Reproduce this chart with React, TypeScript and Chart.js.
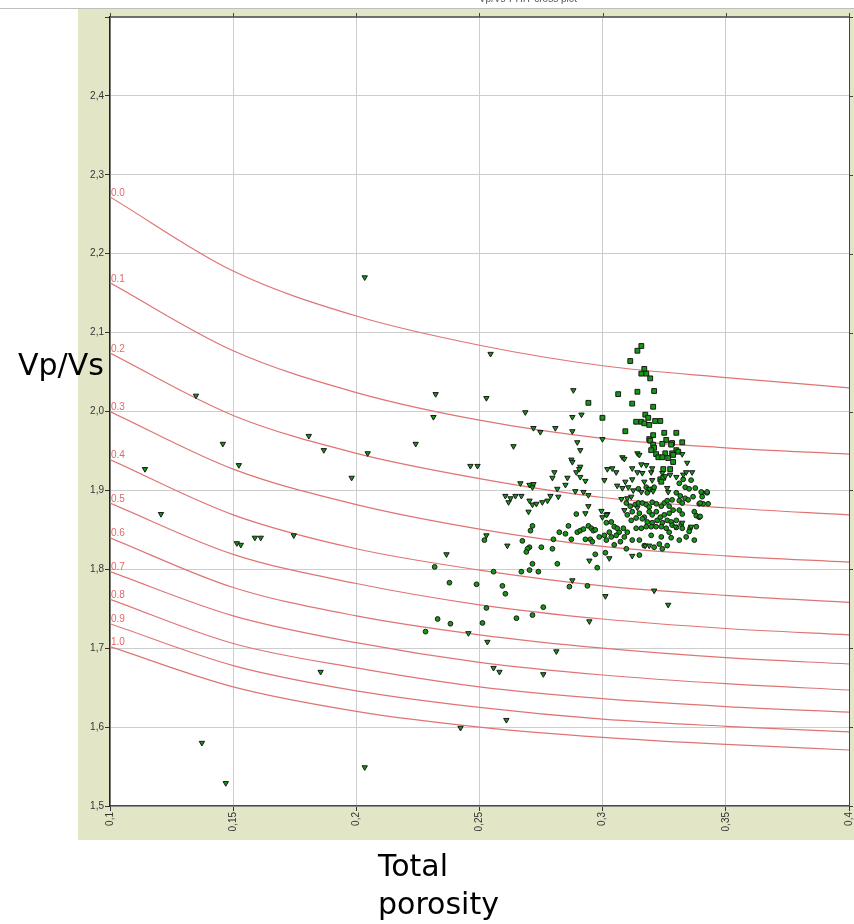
import React, { useEffect, useRef } from 'react';
import { Chart, registerables } from 'chart.js';

Chart.register(...registerables);

// ---- axis ticks ----
const xTickValues = [0.1, 0.15, 0.2, 0.25, 0.3, 0.35, 0.4];
const yTickValues = [1.5, 1.6, 1.7, 1.8, 1.9, 2.0, 2.1, 2.2, 2.3, 2.4, 2.5];

// ---- template curves (Vp/Vs vs total porosity) ----
const curveX = [0.1, 0.15, 0.2, 0.25, 0.3, 0.35, 0.4];
const curveLabels = ['0.0', '0.1', '0.2', '0.3', '0.4', '0.5', '0.6', '0.7', '0.8', '0.9', '1.0'];
const curve00 = [2.272, 2.178, 2.121, 2.084, 2.058, 2.043, 2.030];
const curve01 = [2.163, 2.077, 2.024, 1.989, 1.966, 1.954, 1.946];
const curve02 = [2.074, 1.995, 1.947, 1.915, 1.891, 1.878, 1.869];
const curve03 = [2.000, 1.927, 1.882, 1.851, 1.829, 1.817, 1.809];
const curve04 = [1.939, 1.869, 1.826, 1.799, 1.779, 1.767, 1.758];
const curve05 = [1.884, 1.819, 1.782, 1.755, 1.737, 1.725, 1.717];
const curve06 = [1.840, 1.777, 1.741, 1.717, 1.700, 1.688, 1.680];
const curve07 = [1.797, 1.741, 1.707, 1.682, 1.666, 1.655, 1.647];
const curve08 = [1.762, 1.706, 1.675, 1.651, 1.636, 1.626, 1.619];
const curve09 = [1.731, 1.678, 1.646, 1.625, 1.610, 1.601, 1.594];
const curve10 = [1.702, 1.651, 1.620, 1.600, 1.587, 1.578, 1.571];
const curveValues = [curve00, curve01, curve02, curve03, curve04, curve05, curve06, curve07, curve08, curve09, curve10];

// ---- scatter data: [porosity, Vp/Vs] ----
const trianglePoints: [number, number][] = [
  [0.1142, 1.927], [0.1207, 1.870], [0.1349, 2.020], [0.1458, 1.959], [0.1523, 1.932],
  [0.1515, 1.833], [0.1531, 1.831], [0.1588, 1.840], [0.1612, 1.840], [0.1746, 1.843],
  [0.1807, 1.969], [0.1868, 1.951], [0.1981, 1.916], [0.2046, 1.947], [0.2034, 2.170],
  [0.2241, 1.959], [0.2322, 2.022], [0.2313, 1.993], [0.2463, 1.931], [0.2492, 1.931],
  [0.2366, 1.819], [0.1855, 1.670], [0.2423, 1.599], [0.2034, 1.549], [0.2455, 1.719],
  [0.1373, 1.580], [0.1470, 1.529], [0.2545, 2.073], [0.2528, 2.017], [0.2881, 2.027],
  [0.2686, 1.999], [0.2877, 1.993], [0.2914, 1.996], [0.2719, 1.979], [0.2747, 1.974],
  [0.2808, 1.979], [0.2877, 1.975], [0.2999, 1.965], [0.2897, 1.961], [0.2638, 1.956],
  [0.2909, 1.951], [0.2873, 1.939], [0.2877, 1.936], [0.2909, 1.930], [0.2905, 1.927],
  [0.2893, 1.923], [0.2804, 1.923], [0.3019, 1.927], [0.2796, 1.916], [0.2857, 1.916],
  [0.2909, 1.917], [0.2930, 1.912], [0.3007, 1.913], [0.2666, 1.909], [0.2703, 1.907],
  [0.2719, 1.908], [0.2715, 1.904], [0.2849, 1.907], [0.2816, 1.902], [0.2889, 1.899],
  [0.2922, 1.898], [0.2942, 1.894], [0.2605, 1.893], [0.2626, 1.890], [0.2618, 1.885],
  [0.2646, 1.893], [0.2670, 1.893], [0.2703, 1.887], [0.2715, 1.882], [0.2731, 1.883],
  [0.2755, 1.885], [0.2776, 1.887], [0.2788, 1.893], [0.2820, 1.892], [0.2942, 1.880],
  [0.2699, 1.873], [0.2930, 1.871], [0.2995, 1.874], [0.3019, 1.870], [0.2528, 1.843],
  [0.2613, 1.830], [0.2946, 1.811], [0.2877, 1.786], [0.2946, 1.734], [0.2532, 1.708],
  [0.2812, 1.696], [0.2557, 1.675], [0.2581, 1.670], [0.2759, 1.667], [0.2609, 1.609],
  [0.3011, 1.766], [0.3209, 1.773], [0.3266, 1.755],
  [0.3141, 1.947], [0.3149, 1.945], [0.3080, 1.942], [0.3088, 1.940], [0.3157, 1.933],
  [0.3177, 1.932], [0.3039, 1.928], [0.3055, 1.923], [0.3120, 1.928], [0.3141, 1.923],
  [0.3161, 1.922], [0.3197, 1.923], [0.3201, 1.928], [0.3242, 1.922], [0.3254, 1.918],
  [0.3274, 1.920], [0.3299, 1.917], [0.3327, 1.920], [0.3339, 1.923], [0.3363, 1.923],
  [0.3343, 1.935], [0.3323, 1.946], [0.3092, 1.911], [0.3120, 1.914], [0.3169, 1.911],
  [0.3201, 1.913], [0.3059, 1.906], [0.3080, 1.903], [0.3104, 1.904], [0.3124, 1.900],
  [0.3189, 1.902], [0.3205, 1.899], [0.3262, 1.903], [0.3266, 1.898], [0.3116, 1.892],
  [0.3157, 1.898], [0.3076, 1.889], [0.3100, 1.890], [0.3088, 1.875], [0.3141, 1.878],
  [0.2999, 1.866], [0.3015, 1.869], [0.3323, 1.859], [0.3295, 1.854], [0.3359, 1.854],
  [0.3173, 1.830], [0.3189, 1.830], [0.3120, 1.817], [0.3027, 1.814],
];

const squarePoints: [number, number][] = [
  [0.3157, 2.083], [0.3141, 2.077], [0.3112, 2.064], [0.3169, 2.054], [0.3157, 2.048],
  [0.3177, 2.048], [0.3193, 2.042], [0.3063, 2.022], [0.3141, 2.025], [0.3209, 2.026],
  [0.2942, 2.011], [0.3120, 2.010], [0.3205, 2.006], [0.2999, 1.992], [0.3173, 1.996],
  [0.3185, 1.992], [0.3213, 1.988], [0.3234, 1.988], [0.3136, 1.987], [0.3157, 1.987],
  [0.3169, 1.985], [0.3189, 1.983], [0.3092, 1.975], [0.3250, 1.973], [0.3299, 1.973],
  [0.3205, 1.970], [0.3189, 1.965], [0.3193, 1.963], [0.3258, 1.964], [0.3323, 1.961],
  [0.3282, 1.960], [0.3242, 1.959], [0.3205, 1.958], [0.3278, 1.958], [0.3209, 1.954],
  [0.3197, 1.951], [0.3299, 1.951], [0.3307, 1.949], [0.3254, 1.947], [0.3282, 1.947],
  [0.3217, 1.946], [0.3226, 1.942], [0.3242, 1.942], [0.3266, 1.941], [0.3286, 1.945],
  [0.3286, 1.936], [0.3246, 1.927], [0.3274, 1.927], [0.3234, 1.914], [0.3246, 1.916],
  [0.3238, 1.911],
];

const circlePoints: [number, number][] = [
  [0.2318, 1.803], [0.2378, 1.783], [0.2488, 1.781], [0.2593, 1.779], [0.2605, 1.769],
  [0.2865, 1.778], [0.2938, 1.779], [0.2528, 1.751], [0.2759, 1.752], [0.2650, 1.738],
  [0.2715, 1.742], [0.2330, 1.737], [0.2382, 1.731], [0.2512, 1.732], [0.2281, 1.721],
  [0.2557, 1.797], [0.2670, 1.797], [0.2703, 1.799], [0.2739, 1.797], [0.2715, 1.807],
  [0.2816, 1.807], [0.2978, 1.802], [0.2520, 1.837], [0.2674, 1.836], [0.2703, 1.828],
  [0.2695, 1.826], [0.2690, 1.822], [0.2751, 1.828], [0.2796, 1.826], [0.2800, 1.838],
  [0.2824, 1.847], [0.2849, 1.845], [0.2861, 1.855], [0.2873, 1.838], [0.2897, 1.847],
  [0.2909, 1.849], [0.2922, 1.851], [0.2930, 1.838], [0.2715, 1.855], [0.2707, 1.849],
  [0.2893, 1.870], [0.2970, 1.819], [0.2942, 1.855], [0.2954, 1.852], [0.2962, 1.849],
  [0.2970, 1.850], [0.2950, 1.838], [0.2958, 1.835],
  [0.3145, 1.902], [0.3177, 1.904], [0.3193, 1.901], [0.3181, 1.897], [0.3209, 1.904],
  [0.3311, 1.909], [0.3327, 1.914], [0.3335, 1.904], [0.3351, 1.902], [0.3359, 1.913],
  [0.3376, 1.903], [0.3404, 1.897], [0.3424, 1.897], [0.3404, 1.892], [0.3299, 1.897],
  [0.3315, 1.893], [0.3335, 1.890], [0.3347, 1.888], [0.3367, 1.892], [0.3392, 1.883],
  [0.3408, 1.883], [0.3428, 1.883], [0.3282, 1.888], [0.3311, 1.887], [0.3323, 1.884],
  [0.3096, 1.884], [0.3112, 1.880], [0.3132, 1.882], [0.3145, 1.884], [0.3161, 1.884],
  [0.3177, 1.882], [0.3189, 1.879], [0.3201, 1.885], [0.3218, 1.883], [0.3238, 1.880],
  [0.3250, 1.884], [0.3262, 1.887], [0.3270, 1.880], [0.3120, 1.873], [0.3149, 1.871],
  [0.3169, 1.866], [0.3189, 1.873], [0.3201, 1.869], [0.3218, 1.873], [0.3234, 1.866],
  [0.3250, 1.869], [0.3270, 1.871], [0.3286, 1.875], [0.3311, 1.875], [0.3323, 1.870],
  [0.3100, 1.869], [0.3116, 1.862], [0.3136, 1.865], [0.3161, 1.864], [0.3181, 1.860],
  [0.3201, 1.859], [0.3221, 1.862], [0.3242, 1.859], [0.3262, 1.862], [0.3278, 1.860],
  [0.3299, 1.862], [0.3319, 1.857], [0.3372, 1.873], [0.3380, 1.868], [0.3392, 1.866],
  [0.3015, 1.859], [0.3035, 1.860], [0.3047, 1.854], [0.3059, 1.852], [0.3027, 1.847],
  [0.3067, 1.847], [0.3084, 1.852], [0.3100, 1.847], [0.2986, 1.841], [0.3007, 1.843],
  [0.3015, 1.837], [0.3035, 1.841], [0.3055, 1.843], [0.3088, 1.841], [0.3136, 1.852],
  [0.3157, 1.852], [0.3177, 1.854], [0.3197, 1.854], [0.3217, 1.854], [0.3238, 1.854],
  [0.3258, 1.852], [0.3270, 1.847], [0.3282, 1.856], [0.3323, 1.852], [0.3355, 1.852],
  [0.3380, 1.854], [0.3197, 1.843], [0.3238, 1.841], [0.3278, 1.840], [0.3311, 1.837],
  [0.3339, 1.841], [0.3120, 1.837], [0.3149, 1.837], [0.3072, 1.835], [0.3169, 1.830],
  [0.3209, 1.828], [0.3230, 1.832], [0.3262, 1.830], [0.3242, 1.826], [0.3351, 1.848],
  [0.3299, 1.853], [0.3400, 1.898], [0.3424, 1.898], [0.3396, 1.884], [0.3396, 1.867],
  [0.3011, 1.821], [0.3096, 1.826], [0.3047, 1.831], [0.3149, 1.818], [0.3372, 1.837],
];

const chartTitle = 'Vp/Vs-PHIT cross plot';
const yAxisTitle = 'Vp/Vs';
const xAxisTitle = ['Total', 'porosity'];

const fmtX = (v: number) => String(parseFloat(v.toFixed(2))).replace('.', ',');
const fmtY = (v: number) => v.toFixed(1).replace('.', ',');

const framePlugin = {
  id: 'frame',
  beforeDraw(chart: any) {
    const { ctx, chartArea: a } = chart;
    ctx.save();
    ctx.fillStyle = '#ffffff';
    ctx.fillRect(0, 0, chart.width, chart.height);
    ctx.fillStyle = '#e2e6c7';
    ctx.fillRect(78, 9, chart.width - 78, 831);
    ctx.strokeStyle = '#bdbdbd';
    ctx.lineWidth = 1;
    ctx.beginPath();
    ctx.moveTo(0, 8.5);
    ctx.lineTo(chart.width, 8.5);
    ctx.stroke();
    ctx.fillStyle = '#ffffff';
    ctx.fillRect(a.left, a.top, a.right - a.left, a.bottom - a.top);
    ctx.restore();
  },
  afterDatasetsDraw(chart: any) {
    const { ctx } = chart;
    ctx.save();
    ctx.font = '10px "Liberation Sans", Arial, sans-serif';
    ctx.fillStyle = '#e06a6a';
    ctx.textAlign = 'left';
    ctx.textBaseline = 'bottom';
    chart.data.datasets.forEach((ds: any, i: number) => {
      if (!ds.curveLabel) return;
      const meta = chart.getDatasetMeta(i);
      const p = meta.data[0];
      if (p) ctx.fillText(ds.curveLabel, p.x + 1, p.y + 1);
    });
    ctx.restore();
  },
  afterDraw(chart: any) {
    const { ctx, chartArea: a, scales } = chart;
    ctx.save();
    ctx.strokeStyle = '#6f6f6f';
    ctx.lineWidth = 2;
    ctx.beginPath();
    ctx.moveTo(a.left, a.top);
    ctx.lineTo(a.right, a.top);
    ctx.stroke();
    ctx.strokeStyle = '#444';
    ctx.lineWidth = 1;
    scales.x.ticks.forEach((t: any) => {
      const px = Math.round(scales.x.getPixelForValue(t.value)) + 0.5;
      ctx.beginPath();
      ctx.moveTo(px, a.top - 4);
      ctx.lineTo(px, a.top);
      ctx.stroke();
    });
    ctx.beginPath();
    ctx.moveTo(a.right + 0.5, a.top);
    ctx.lineTo(a.right + 0.5, a.bottom);
    ctx.stroke();
    scales.y.ticks.forEach((t: any) => {
      const py = Math.round(scales.y.getPixelForValue(t.value)) + 0.5;
      ctx.beginPath();
      ctx.moveTo(a.right, py);
      ctx.lineTo(a.right + 4, py);
      ctx.stroke();
    });
    ctx.restore();
  },
};

export default function App() {
  const canvasRef = useRef<HTMLCanvasElement | null>(null);

  useEffect(() => {
    if (!canvasRef.current) return;
    const pointBase = {
      showLine: false,
      backgroundColor: '#129812',
      borderColor: '#1a1a1a',
      borderWidth: 1,
      order: 0,
    };
    const curveDatasets = curveValues.map((vals, i) => ({
      label: 'curve ' + curveLabels[i],
      curveLabel: curveLabels[i],
      data: curveX.map((x, j) => ({ x, y: vals[j] })),
      showLine: true,
      borderColor: '#e07474',
      borderWidth: 1.2,
      pointRadius: 0,
      pointHoverRadius: 0,
      cubicInterpolationMode: 'monotone',
      fill: false,
      order: 1,
    }));
    const chart = new Chart(canvasRef.current, {
      type: 'scatter',
      data: {
        datasets: [
          {
            ...pointBase,
            label: 'triangles',
            data: trianglePoints.map(([x, y]) => ({ x, y })),
            pointStyle: 'triangle',
            rotation: 180,
            pointRadius: 3.1,
          },
          {
            ...pointBase,
            label: 'squares',
            data: squarePoints.map(([x, y]) => ({ x, y })),
            pointStyle: 'rect',
            pointRadius: 3.4,
          },
          {
            ...pointBase,
            label: 'circles',
            data: circlePoints.map(([x, y]) => ({ x, y })),
            pointStyle: 'circle',
            pointRadius: 2.4,
          },
          ...curveDatasets,
        ] as any,
      },
      options: {
        animation: false,
        responsive: false,
        devicePixelRatio: 1,
        events: [],
        layout: { padding: { top: 17, right: 4, left: 0, bottom: 0 } },
        plugins: {
          legend: { display: false },
          tooltip: { enabled: false },
          title: { display: false },
        },
        scales: {
          x: {
            type: 'linear',
            min: 0.1,
            max: 0.4,
            afterBuildTicks: (s: any) => {
              s.ticks = xTickValues.map((v) => ({ value: v }));
            },
            afterFit: (s: any) => {
              s.height = 118;
              s.paddingLeft = 0;
              s.paddingRight = 0;
            },
            ticks: {
              autoSkip: false,
              minRotation: 90,
              maxRotation: 90,
              padding: 1,
              color: '#333',
              font: { family: '"Liberation Sans", Arial, sans-serif', size: 10 },
              callback: (v: any) => fmtX(Number(v)),
            },
            grid: {
              color: '#cdcdcd',
              lineWidth: 1,
              tickLength: 5,
              tickColor: '#333',
            },
            border: { display: true, color: '#4a4a4a', width: 1.5 },
          },
          y: {
            type: 'linear',
            min: 1.5,
            max: 2.5,
            afterBuildTicks: (s: any) => {
              s.ticks = yTickValues.map((v) => ({ value: v }));
            },
            afterFit: (s: any) => {
              s.width = 110;
              s.paddingTop = 0;
              s.paddingBottom = 0;
            },
            ticks: {
              autoSkip: false,
              padding: 1,
              color: '#333',
              font: { family: '"Liberation Sans", Arial, sans-serif', size: 10 },
              callback: (v: any) => (Number(v) >= 2.45 ? '' : fmtY(Number(v))),
            },
            grid: {
              color: '#cdcdcd',
              lineWidth: 1,
              tickLength: 5,
              tickColor: '#333',
            },
            border: { display: true, color: '#222', width: 1.5 },
          },
        },
      } as any,
      plugins: [framePlugin],
    });
    return () => chart.destroy();
  }, []);

  return (
    <div style={{ position: 'fixed', left: 0, top: 0, width: 854, height: 924, overflow: 'hidden', background: '#fff' }}>
      <canvas ref={canvasRef} width={854} height={924} style={{ position: 'absolute', left: 0, top: 0, width: 854, height: 924 }} />
      <div
        style={{
          position: 'absolute', left: 528, top: -7, transform: 'translateX(-50%)',
          font: '10px "Liberation Sans", Arial, sans-serif', lineHeight: '12px', color: '#555', whiteSpace: 'nowrap',
        }}
      >
        {chartTitle}
      </div>
      <div
        style={{
          position: 'absolute', left: 18, top: 350,
          font: '30px "DejaVu Sans", sans-serif', lineHeight: '30px', color: '#000', whiteSpace: 'nowrap',
        }}
      >
        {yAxisTitle}
      </div>
      <div
        style={{
          position: 'absolute', left: 378, top: 847,
          font: '30px "DejaVu Sans", sans-serif', lineHeight: '38px', color: '#000', whiteSpace: 'nowrap',
        }}
      >
        {xAxisTitle[0]}
        <br />
        {xAxisTitle[1]}
      </div>
    </div>
  );
}
